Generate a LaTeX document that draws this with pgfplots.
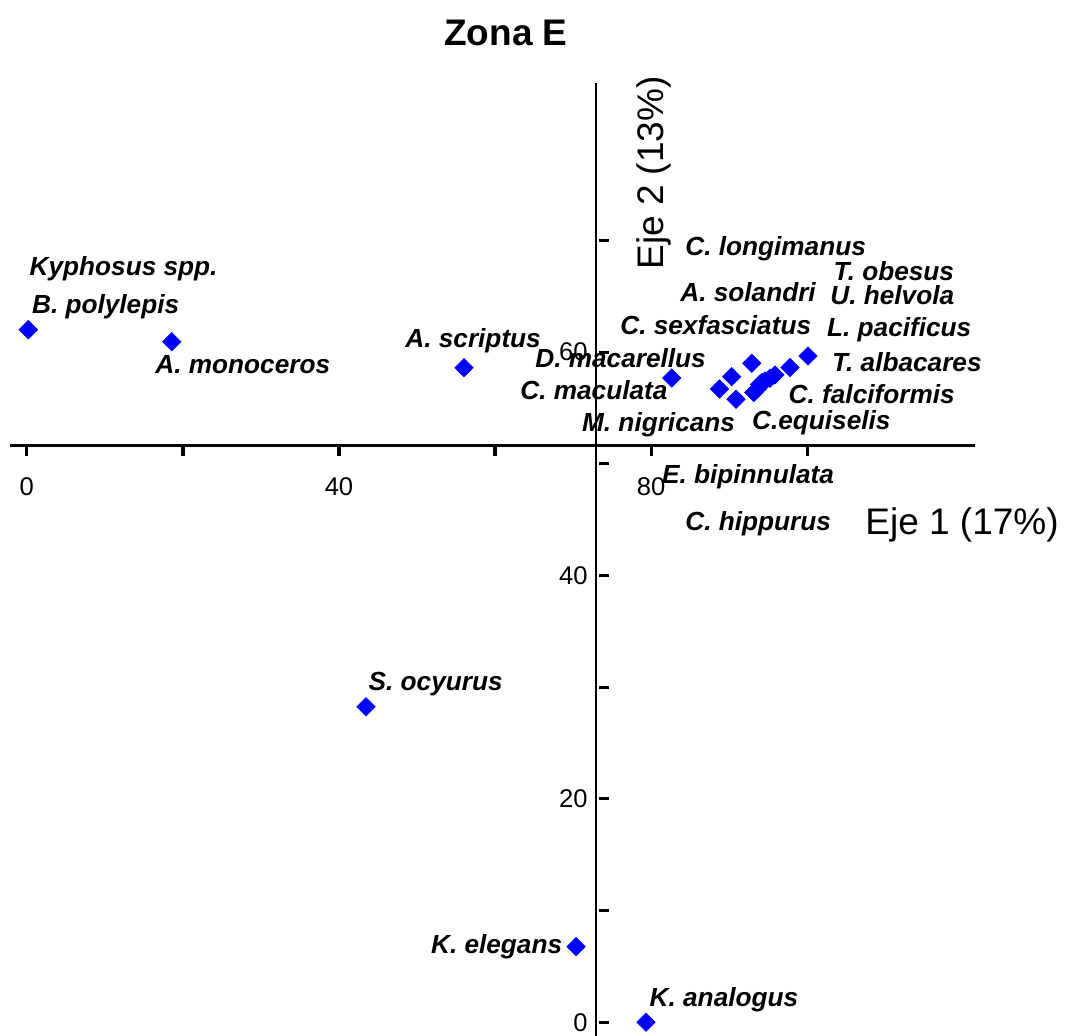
\documentclass[border=0pt]{standalone}
\usepackage{fontspec}
\setmainfont{Liberation Sans}
\usepackage{pgfplots}
\pgfplotsset{compat=1.18}
\newcommand{\lab}{\fontsize{13.1}{15}\selectfont\bfseries\itshape}
\newcommand{\tck}{\fontsize{12.8}{14}\selectfont}
\newcommand{\axl}{\fontsize{18.5}{21}\selectfont}
\tikzset{lbl/.style={anchor=base west, inner sep=0pt, font=\lab}}
\begin{document}
\begin{tikzpicture}
\begin{axis}[
  x=3.9025pt, y=5.585pt,
  xmin=-3.434, xmax=133.02, ymin=-1.2265, ymax=91.52,
  hide axis, clip=false,
]
% axis lines
\draw[line width=1.5pt] (axis cs:-2.15,51.6) -- (axis cs:121.5,51.6);
\draw[line width=1pt] (axis cs:72.93,-1.3) -- (axis cs:72.93,84.1);
% x ticks
\draw[line width=1.6pt] (axis cs:0,51.6) -- ++(0pt,-4.8pt);
\draw[line width=1.6pt] (axis cs:20,51.6) -- ++(0pt,-4.8pt);
\draw[line width=1.6pt] (axis cs:40,51.6) -- ++(0pt,-4.8pt);
\draw[line width=1.6pt] (axis cs:60,51.6) -- ++(0pt,-4.8pt);
\draw[line width=1.6pt] (axis cs:80,51.6) -- ++(0pt,-4.8pt);
\draw[line width=1.6pt] (axis cs:100,51.6) -- ++(0pt,-4.8pt);
\node[font=\tck, anchor=center, inner sep=0pt] at (axis cs:0,47.92) {0};
\node[font=\tck, anchor=center, inner sep=0pt] at (axis cs:40,47.92) {40};
\node[font=\tck, anchor=center, inner sep=0pt] at (axis cs:80,47.92) {80};
% y ticks
\draw[line width=1.5pt] (axis cs:72.93,0) ++(1.5pt,0pt) -- ++(5pt,0pt);
\draw[line width=1.5pt] (axis cs:72.93,10) ++(1.5pt,0pt) -- ++(5pt,0pt);
\draw[line width=1.5pt] (axis cs:72.93,20) ++(1.5pt,0pt) -- ++(5pt,0pt);
\draw[line width=1.5pt] (axis cs:72.93,30) ++(1.5pt,0pt) -- ++(5pt,0pt);
\draw[line width=1.5pt] (axis cs:72.93,40) ++(1.5pt,0pt) -- ++(5pt,0pt);
\draw[line width=1.5pt] (axis cs:72.93,50) ++(1.5pt,0pt) -- ++(5pt,0pt);
\draw[line width=1.5pt] (axis cs:72.93,60) ++(1.5pt,0pt) -- ++(5pt,0pt);
\draw[line width=1.5pt] (axis cs:72.93,70) ++(1.5pt,0pt) -- ++(5pt,0pt);
\node[font=\tck, anchor=east, inner sep=0pt] at ([xshift=-4pt]axis cs:72.93,0) {0};
\node[font=\tck, anchor=east, inner sep=0pt] at ([xshift=-4pt]axis cs:72.93,20) {20};
\node[font=\tck, anchor=east, inner sep=0pt] at ([xshift=-4pt]axis cs:72.93,40) {40};
\node[font=\tck, anchor=east, inner sep=0pt] at ([xshift=-4pt]axis cs:72.93,60) {60};
% title and axis labels
\node[font=\axl\bfseries, anchor=base, inner sep=0pt] at (axis cs:61.4,87.49) {Zona E};
\node[font=\axl, anchor=base west, inner sep=0pt] at (axis cs:107.39,43.71) {Eje 1 (17\%)};
\node[font=\axl, anchor=base west, inner sep=0pt, rotate=90] at (axis cs:81.6,67.35) {Eje 2 (13\%)};
% data
\addplot[only marks, mark=square*, mark size=3.25pt, color=blue,
  mark options={rotate=45, fill=blue, draw=blue, line width=0.3pt}] coordinates {
  (0.2,62.0) (0.2,62.0) (18.57,60.93) (56.02,58.60) (43.46,28.25)
  (70.37,6.77) (79.33,0.0) (82.63,57.68)
  (92.88,59.00) (90.31,57.80) (88.75,56.70) (90.87,55.77)
  (93.15,56.38) (93.55,56.67) (93.88,57.10) (94.20,57.28) (94.58,57.41)
  (95.22,57.66) (95.85,57.95) (97.78,58.62) (100.09,59.65)
};
% labels
\node[lbl] at (axis cs:0.32,66.84) {Kyphosus spp.};
\node[lbl] at (axis cs:0.63,63.47) {B. polylepis};
\node[lbl] at (axis cs:16.43,58.10) {A. monoceros};
\node[lbl] at (axis cs:48.46,60.43) {A. scriptus};
\node[lbl] at (axis cs:65.11,58.64) {D. macarellus};
\node[lbl] at (axis cs:63.19,55.77) {C. maculata};
\node[lbl] at (axis cs:71.10,52.87) {M. nigricans};
\node[lbl] at (axis cs:76.00,61.53) {C. sexfasciatus};
\node[lbl] at (axis cs:83.69,64.57) {A. solandri};
\node[lbl] at (axis cs:84.33,68.63) {C. longimanus};
\node[lbl] at (axis cs:103.33,66.37) {T. obesus};
\node[lbl] at (axis cs:102.91,64.22) {U. helvola};
\node[lbl] at (axis cs:102.49,61.38) {L. pacificus};
\node[lbl] at (axis cs:103.13,58.24) {T. albacares};
\node[lbl] at (axis cs:97.57,55.42) {C. falciformis};
\node[lbl] at (axis cs:92.88,53.03) {C.equiselis};
\node[lbl] at (axis cs:81.35,48.25) {E. bipinnulata};
\node[lbl] at (axis cs:84.33,44.07) {C. hippurus};
\node[lbl] at (axis cs:43.75,29.69) {S. ocyurus};
\node[lbl] at (axis cs:51.75,6.18) {K. elegans};
\node[lbl] at (axis cs:79.76,1.40) {K. analogus};
\end{axis}
\pgfresetboundingbox
\path (current axis.south west) rectangle (current axis.north east);
\end{tikzpicture}
\end{document}
